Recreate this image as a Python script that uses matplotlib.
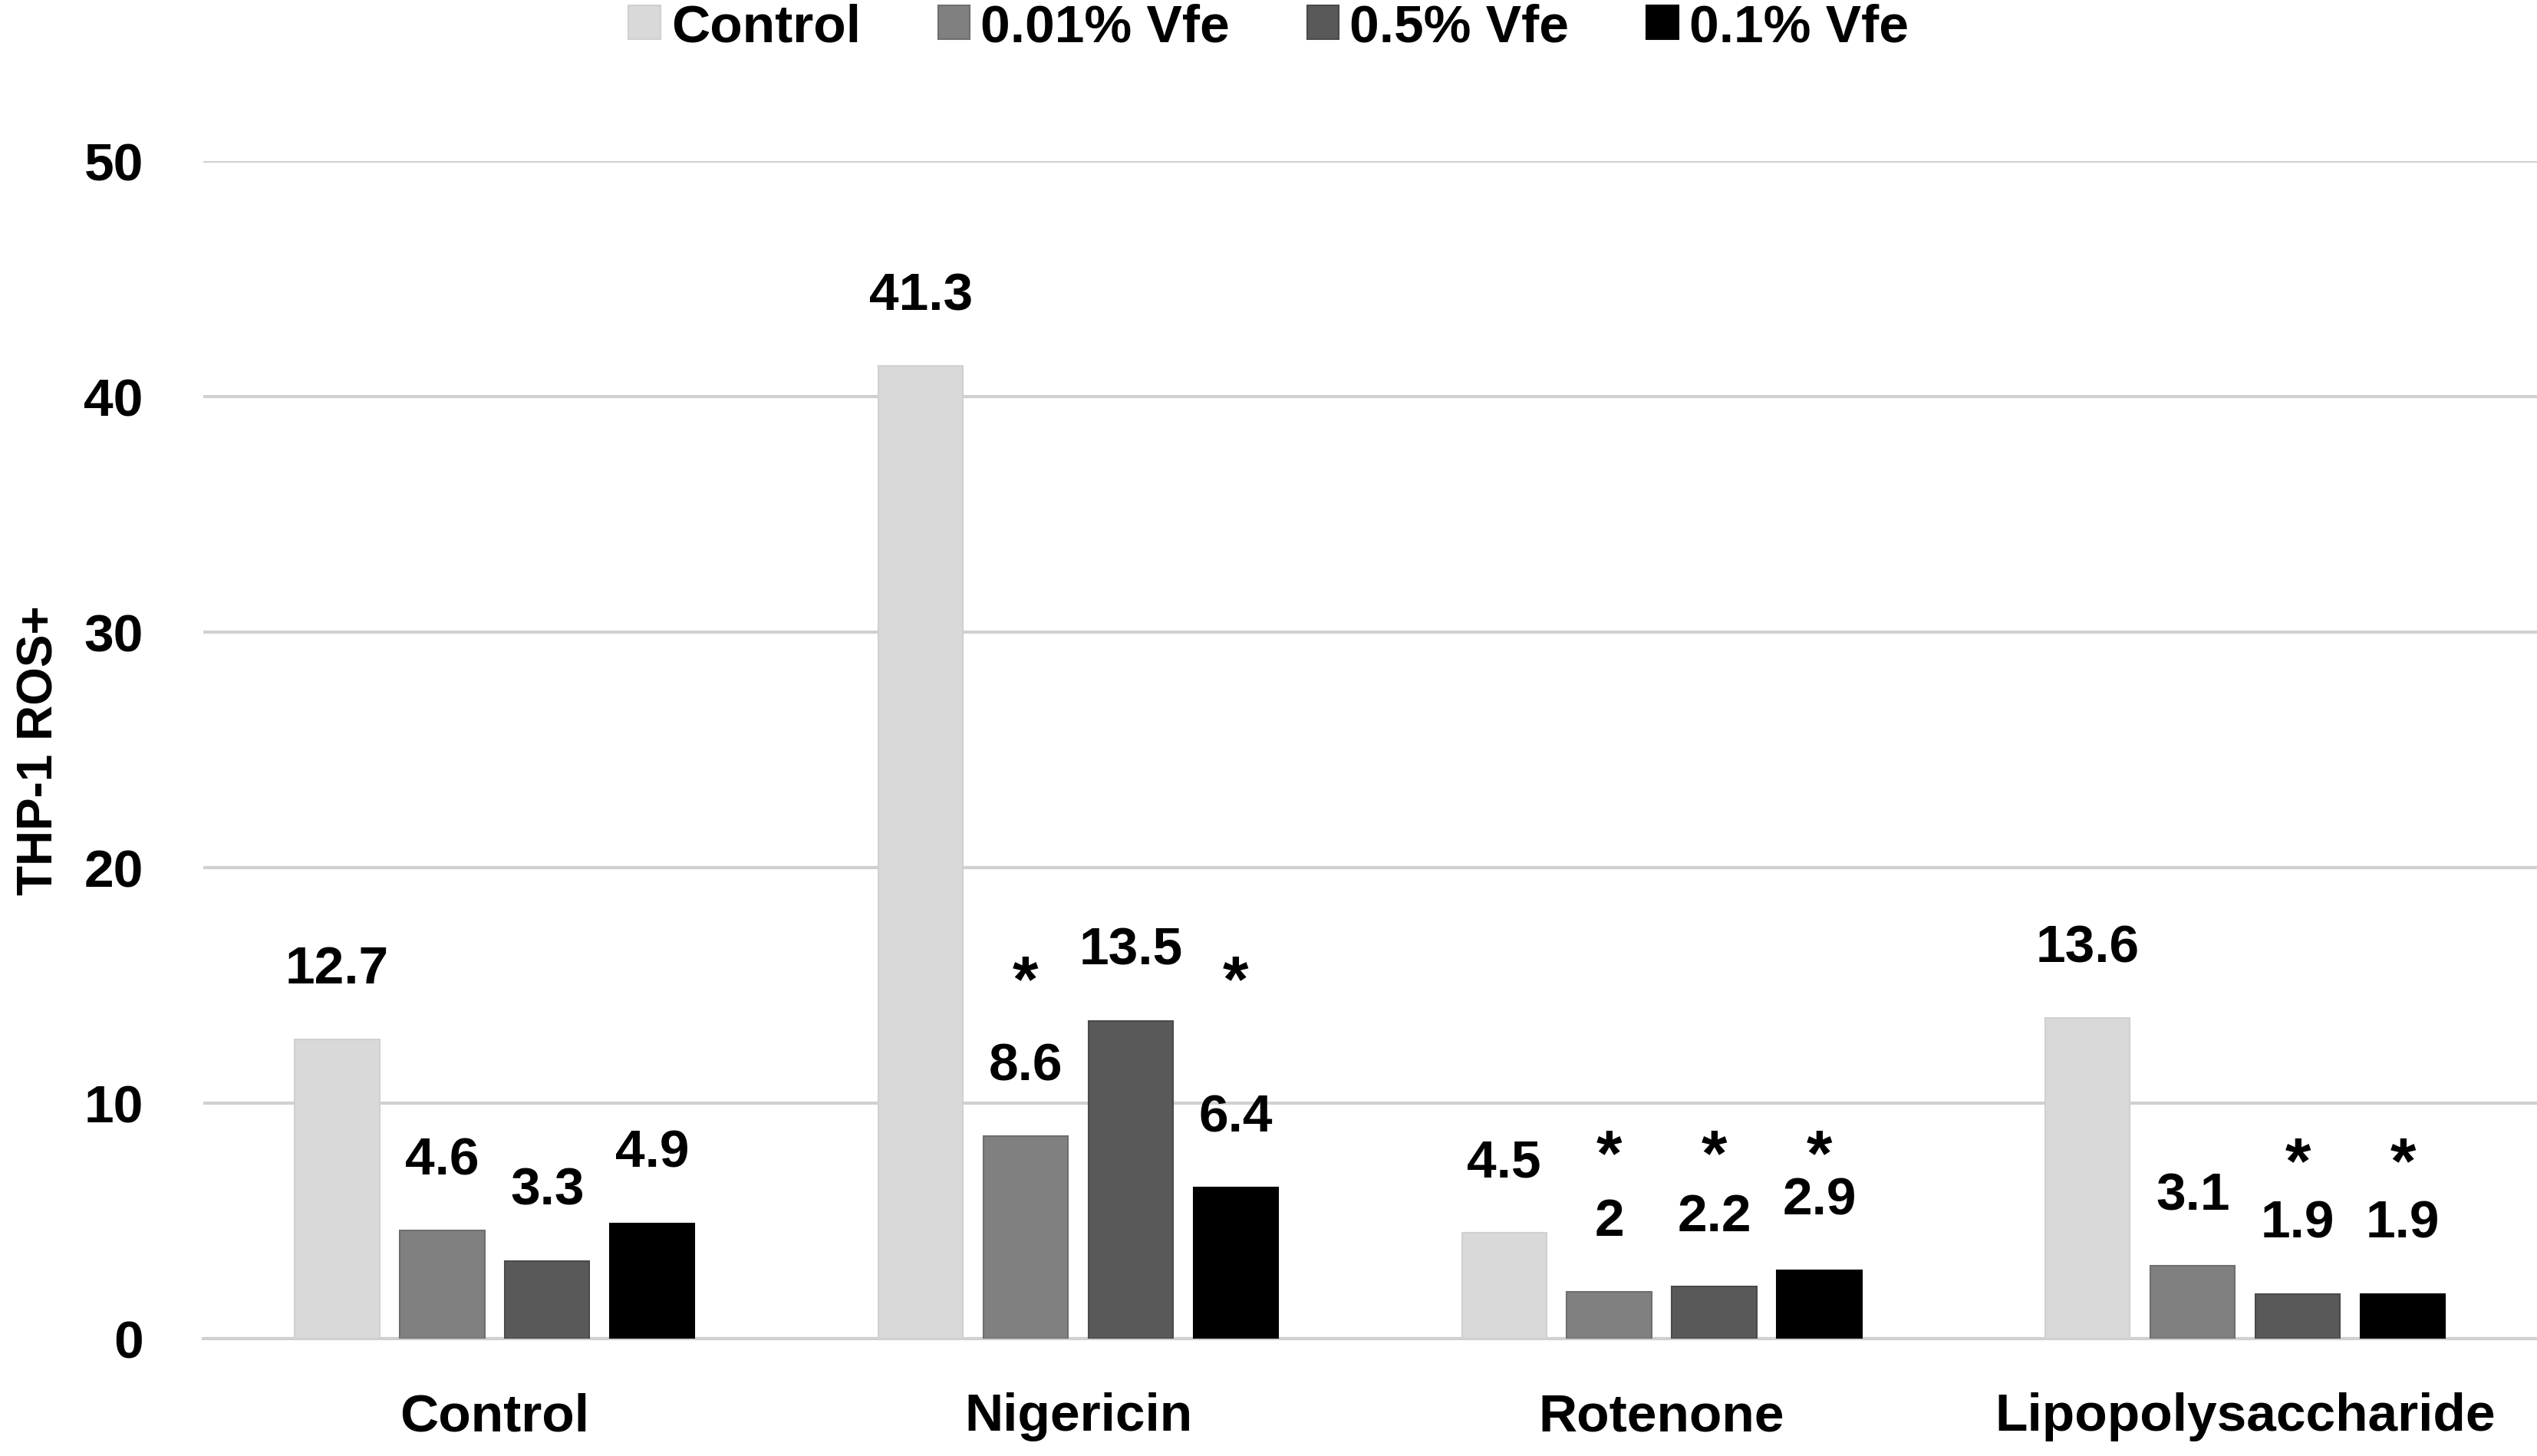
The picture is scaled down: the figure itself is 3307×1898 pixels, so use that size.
import numpy as np
import matplotlib.pyplot as plt

# data
groups = ['Control', 'Nigericin', 'Rotenone', 'Lipopolysaccharide']
series = ['Control', '0.01% Vfe', '0.5% Vfe', '0.1% Vfe']
control = [12.7, 41.3, 4.5, 13.6]
vfe_001 = [4.6, 8.6, 2, 3.1]
vfe_05 = [3.3, 13.5, 2.2, 1.9]
vfe_01 = [4.9, 6.4, 2.9, 1.9]
# significance stars: (group index, series index) and star height per group
stars = [(1, 1), (1, 3), (2, 1), (2, 2), (2, 3), (3, 2), (3, 3)]
star_level = [0, 15.7, 8.3, 8.0]

colors = ['#d9d9d9', '#808080', '#595959', '#000000']
edges = ['#d0d0d0', '#6e6e6e', '#4a4a4a', '#000000']

plt.rcParams['font.family'] = ['Liberation Sans', 'DejaVu Sans']
plt.rcParams['font.weight'] = 'bold'
plt.rcParams['axes.labelweight'] = 'bold'

fig = plt.figure(figsize=(33.07, 18.99), dpi=100)
ax = fig.add_axes([0.08, 0.0806, 0.92, 0.8083])

x = np.arange(len(groups))
width = 0.145
step = 0.18
values = [control, vfe_001, vfe_05, vfe_01]
for i, vals in enumerate(values):
    pos = x + (i - 1.5) * step
    ax.bar(pos, vals, width, color=colors[i], edgecolor=edges[i], linewidth=1.5,
           label=series[i], zorder=3)
    for px, v in zip(pos, vals):
        ax.annotate(f'{v:g}', (px, v), xytext=(0, 66), textcoords='offset points',
                    ha='center', va='center', fontsize=50)

for g, s in stars:
    ax.annotate('*', (x[g] + (s - 1.5) * step, star_level[g]), xytext=(0, -14),
                textcoords='offset points', ha='center', va='center', fontsize=62)

ax.set_xlim(-0.5, 3.5)
ax.set_ylim(0, 50)
ax.set_yticks(range(0, 51, 10))
ax.set_xticks(x)
ax.set_xticklabels(groups, fontsize=50)
ax.tick_params(axis='y', labelsize=50, length=0, pad=56)
ax.tick_params(axis='x', length=0, pad=50)
ax.yaxis.grid(True, color='#d0d0d0', linewidth=3, zorder=0)
ax.set_axisbelow(True)
for side in ['left', 'right', 'top']:
    ax.spines[side].set_visible(False)
ax.spines['bottom'].set_color('#d0d0d0')
ax.spines['bottom'].set_linewidth(3)
ax.set_ylabel('THP-1 ROS+', fontsize=46, labelpad=20)

fig.legend(loc='center', bbox_to_anchor=(0.5, 0.981), ncol=4, frameon=False,
           fontsize=50, handlelength=0.6, handleheight=0.6, handletextpad=0.2,
           columnspacing=1.45)

fig.savefig('out.png', dpi=100)
